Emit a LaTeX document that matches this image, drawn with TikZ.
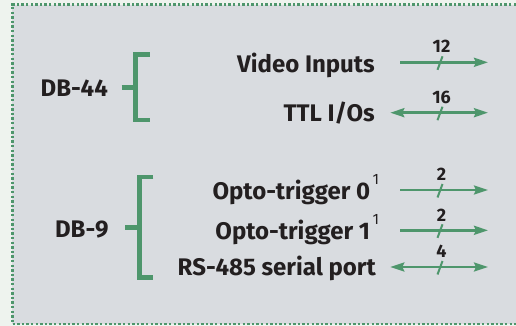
\documentclass[tikz,border=0pt]{standalone}
\usepackage{fontspec}
\setmainfont{Fira Sans}
\usetikzlibrary{arrows.meta}
\definecolor{outerbg}{HTML}{EEF3EE}
\definecolor{panel}{HTML}{D9DCE0}
\definecolor{grn}{HTML}{4E966C}
\definecolor{ink}{HTML}{231F20}
\begin{document}
\begin{tikzpicture}[x=1pt,y=-1pt,
  lbl/.style={font=\fontsize{24}{24}\selectfont\bfseries, text=ink, inner sep=0, anchor=base east},
  num/.style={font=\fontsize{18}{18}\selectfont\bfseries, text=ink, inner sep=0, anchor=base},
  tip/.tip={Stealth[length=14pt,width=9pt,inset=2pt]},
  bus/.style={draw=grn, line width=2.6pt, -tip},
  bidir/.style={draw=grn, line width=2.6pt, tip-tip},
  brk/.style={draw=grn, line width=4.5pt, line join=miter},
  tick/.style={draw=grn, line width=2pt},
  frame/.style={draw=grn, line width=2.4pt, dash pattern=on 2.4pt off 2.2pt}]
\useasboundingbox (0,0) rectangle (516,326);
\fill[outerbg] (0,0) rectangle (516,326);
\fill[panel] (12.3,4.7) rectangle (516,324);
\draw[frame] (516,4.7) -- (12.3,4.7) -- (12.3,324) -- (516,324);

% connectors labels
\node[lbl, anchor=base east] (db44) at (108,97) {DB-44};
\node[lbl, anchor=base east] (db9) at (108.7,237.3) {DB-9};

\node[lbl] (vid) at (375,72.5) {Video Inputs};
\node[lbl] (ttl) at (375,121.7) {TTL I/Os};
\node[lbl] (op0) at (379.3,199.3) {Opto-trigger 0\hspace{2.5pt}\raisebox{15pt}{\fontsize{15}{15}\selectfont\mdseries 1}};
\node[lbl] (op1) at (379.3,239.3) {Opto-trigger 1\hspace{2.5pt}\raisebox{15pt}{\fontsize{15}{15}\selectfont\mdseries 1}};
\node[lbl] (rs) at (376,275) {RS-485 serial port};

% brackets
\coordinate (b1t) at (149.5,54.5);
\coordinate (b1b) at (149.5,120.2);
\coordinate (b1s) at (121.5,87.5);
\draw[brk] (b1t) -- (135.5,54.5) -- (135.5,120.2) -- (b1b);
\draw[brk] (b1s) -- (135.5,87.5);

\coordinate (b2t) at (153.3,177);
\coordinate (b2b) at (153.3,277.7);
\coordinate (b2s) at (125.3,227.5);
\draw[brk] (b2t) -- (139.5,177) -- (139.5,277.7) -- (b2b);
\draw[brk] (b2s) -- (139.5,227.5);

% arrows
\coordinate (a1s) at (400,62.3);   \coordinate (a1e) at (488,62.3);   \coordinate (a1m) at (440,62.3);
\coordinate (a2s) at (390.3,112.7);\coordinate (a2e) at (488,112.7);  \coordinate (a2m) at (440,112.7);
\coordinate (a3s) at (400,190);    \coordinate (a3e) at (488,190);    \coordinate (a3m) at (440,190);
\coordinate (a4s) at (400,230.3);  \coordinate (a4e) at (488,230.3);  \coordinate (a4m) at (440,230.3);
\coordinate (a5s) at (390.3,267);  \coordinate (a5e) at (488,267);    \coordinate (a5m) at (440,267);

\draw[bus] (a1s) -- (a1e);
\draw[bidir] (a2s) -- (a2e);
\draw[bus] (a3s) -- (a3e);
\draw[bus] (a4s) -- (a4e);
\draw[bidir] (a5s) -- (a5e);

\foreach \m in {a1m,a2m,a3m,a4m,a5m}
  \draw[tick] ([shift={(-2.5,7.5)}]\m) -- ([shift={(2.5,-6)}]\m);

\node[num] (n1) at (441.5,52.7) {12};
\node[num] (n2) at (441.5,103) {16};
\node[num] (n3) at (441.5,180.7) {2};
\node[num] (n4) at (441.5,221) {2};
\node[num] (n5) at (441.5,257.7) {4};
\end{tikzpicture}
\end{document}
